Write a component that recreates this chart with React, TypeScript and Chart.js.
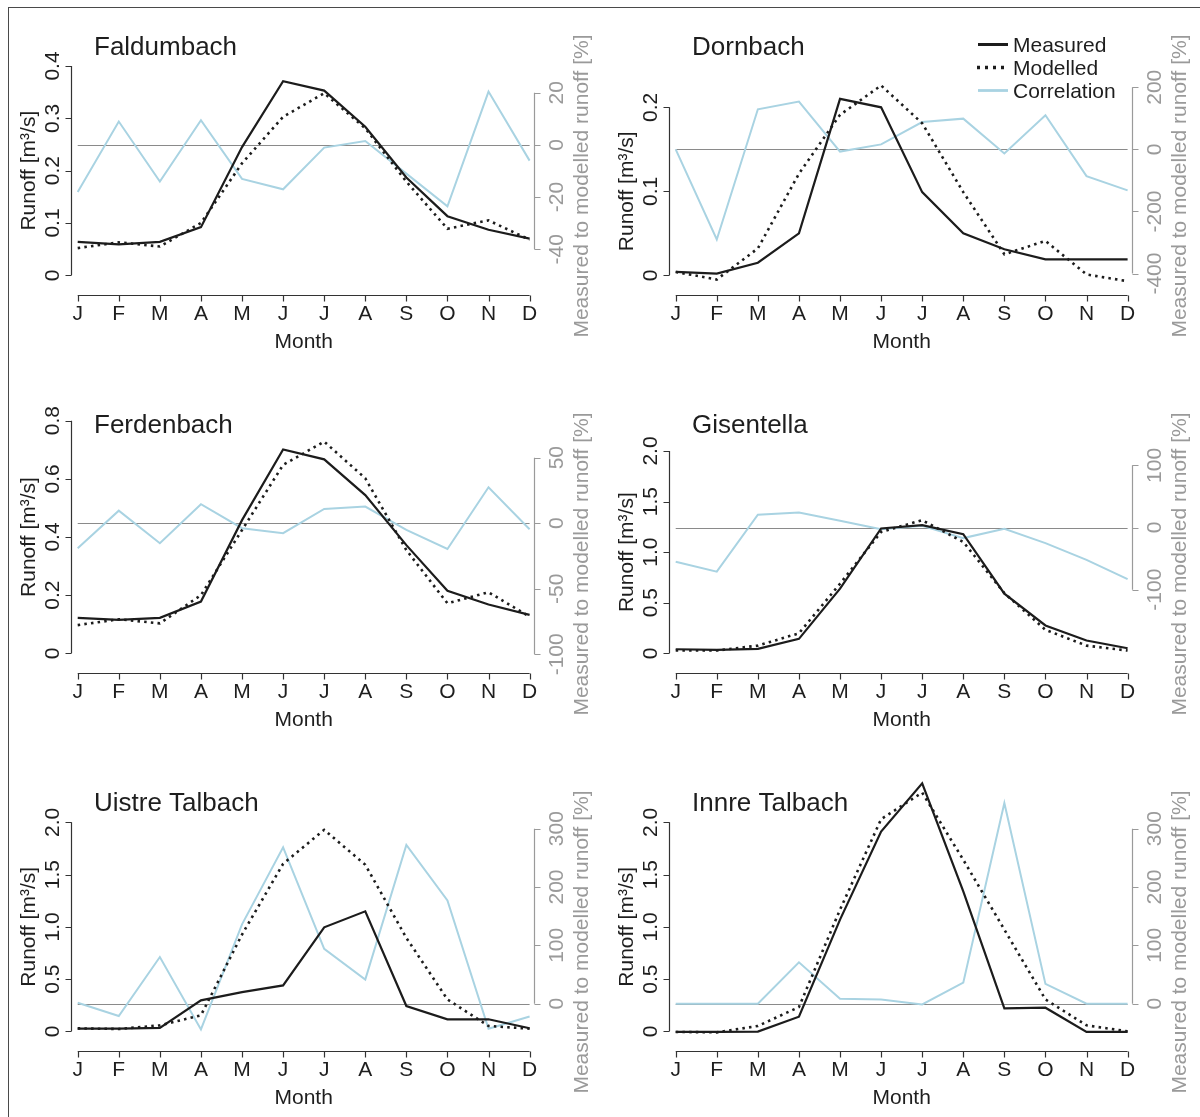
import React, { useEffect, useRef } from "react";
import { Chart, registerables } from "chart.js";

Chart.register(...registerables);

const FONT = '"Liberation Sans", Arial, Helvetica, sans-serif';

const months = ["J", "F", "M", "A", "M", "J", "J", "A", "S", "O", "N", "D"];
const seriesLabels = ["Measured", "Modelled", "Correlation"];

// Faldumbach
const faldumbachMeasured = [0.064, 0.059, 0.064, 0.092, 0.245, 0.371, 0.353, 0.284, 0.187, 0.113, 0.087, 0.07];
const faldumbachModelled = [0.052, 0.063, 0.055, 0.1, 0.214, 0.303, 0.348, 0.281, 0.179, 0.089, 0.105, 0.068];
const faldumbachCorrelation = [-18, 9, -14, 9.5, -13, -17, -1, 1.5, -11, -23.5, 20.5, -6];
const faldumbachLeftTicks = [0, 0.1, 0.2, 0.3, 0.4];
const faldumbachLeftLabels = ["0", "0.1", "0.2", "0.3", "0.4"];
const faldumbachRightTicks = [-40, -20, 0, 20];

// Dornbach
const dornbachMeasured = [0.004, 0.002, 0.015, 0.05, 0.21, 0.2, 0.099, 0.05, 0.031, 0.019, 0.019, 0.019];
const dornbachModelled = [0.004, -0.005, 0.032, 0.121, 0.191, 0.226, 0.181, 0.099, 0.025, 0.041, 0.001, -0.007];
const dornbachCorrelation = [0, -290, 129, 154, -7, 16, 88, 99, -13, 110, -86, -132];
const dornbachLeftTicks = [0, 0.1, 0.2];
const dornbachLeftLabels = ["0", "0.1", "0.2"];
const dornbachRightTicks = [-400, -200, 0, 200];

// Ferdenbach
const ferdenbachMeasured = [0.122, 0.115, 0.122, 0.178, 0.458, 0.701, 0.667, 0.544, 0.372, 0.215, 0.168, 0.132];
const ferdenbachModelled = [0.097, 0.117, 0.103, 0.2, 0.424, 0.648, 0.728, 0.602, 0.355, 0.172, 0.21, 0.126];
const ferdenbachCorrelation = [-19, 9.6, -15.3, 14.5, -3.8, -7.6, 10.9, 12.7, -5.1, -19.6, 27.4, -4.6];
const ferdenbachLeftTicks = [0, 0.2, 0.4, 0.6, 0.8];
const ferdenbachLeftLabels = ["0", "0.2", "0.4", "0.6", "0.8"];
const ferdenbachRightTicks = [-100, -50, 0, 50];

// Gisentella
const gisentellaMeasured = [0.04, 0.034, 0.044, 0.143, 0.639, 1.234, 1.267, 1.178, 0.589, 0.275, 0.126, 0.05];
const gisentellaModelled = [0.027, 0.027, 0.076, 0.198, 0.688, 1.2, 1.316, 1.101, 0.595, 0.232, 0.076, 0.027];
const gisentellaCorrelation = [-55, -71, 20.5, 24, 11, -2.7, 2.7, -17, -2, -25, -52, -83];
const gisentellaLeftTicks = [0, 0.5, 1.0, 1.5, 2.0];
const gisentellaLeftLabels = ["0", "0.5", "1.0", "1.5", "2.0"];
const gisentellaRightTicks = [-100, 0, 100];

// Uistre Talbach
const uistreMeasured = [0.025, 0.025, 0.032, 0.296, 0.375, 0.439, 0.995, 1.148, 0.242, 0.115, 0.115, 0.029];
const uistreModelled = [0.028, 0.022, 0.057, 0.153, 0.926, 1.603, 1.928, 1.594, 0.894, 0.305, 0.051, 0.025];
const uistreCorrelation = [1.7, -21, 80, -44, 136, 268, 94, 41.5, 272, 177, -43, -22];
const uistreLeftTicks = [0, 0.5, 1.0, 1.5, 2.0];
const uistreLeftLabels = ["0", "0.5", "1.0", "1.5", "2.0"];
const uistreRightTicks = [0, 100, 200, 300];

// Innre Talbach
const innreMeasured = [-0.006, -0.006, -0.003, 0.14, 1.069, 1.911, 2.373, 1.339, 0.219, 0.226, -0.006, -0.006];
const innreModelled = [-0.006, -0.01, 0.051, 0.232, 1.164, 2.03, 2.284, 1.641, 0.973, 0.305, 0.057, 0.0];
const innreCorrelation = [0, 0, 0, 71, 8.5, 7.4, -1.2, 36, 344, 34, 0, 0];
const innreLeftTicks = [0, 0.5, 1.0, 1.5, 2.0];
const innreLeftLabels = ["0", "0.5", "1.0", "1.5", "2.0"];
const innreRightTicks = [0, 100, 200, 300];

type Spec = {
  name: string;
  measured: number[];
  modelled: number[];
  correlation: number[];
  leftTicks: number[];
  leftLabels: string[];
  rightTicks: number[];
  rightMin: number;
  rightMax: number;
  top: number;
  legend: boolean;
  row: number;
  col: number;
};

const panels: Spec[] = [
  { name: "Faldumbach", measured: faldumbachMeasured, modelled: faldumbachModelled, correlation: faldumbachCorrelation, leftTicks: faldumbachLeftTicks, leftLabels: faldumbachLeftLabels, rightTicks: faldumbachRightTicks, rightMin: -50, rightMax: 30.3, top: 66, legend: false, row: 0, col: 0 },
  { name: "Dornbach", measured: dornbachMeasured, modelled: dornbachModelled, correlation: dornbachCorrelation, leftTicks: dornbachLeftTicks, leftLabels: dornbachLeftLabels, rightTicks: dornbachRightTicks, rightMin: -405.5, rightMax: 135.5, top: 107.3, legend: true, row: 0, col: 1 },
  { name: "Ferdenbach", measured: ferdenbachMeasured, modelled: ferdenbachModelled, correlation: ferdenbachCorrelation, leftTicks: ferdenbachLeftTicks, leftLabels: ferdenbachLeftLabels, rightTicks: ferdenbachRightTicks, rightMin: -99.2, rightMax: 78.2, top: 42.7, legend: false, row: 1, col: 0 },
  { name: "Gisentella", measured: gisentellaMeasured, modelled: gisentellaModelled, correlation: gisentellaCorrelation, leftTicks: gisentellaLeftTicks, leftLabels: gisentellaLeftLabels, rightTicks: gisentellaRightTicks, rightMin: -202.3, rightMax: 123.1, top: 73, legend: false, row: 1, col: 1 },
  { name: "Uistre Talbach", measured: uistreMeasured, modelled: uistreModelled, correlation: uistreCorrelation, leftTicks: uistreLeftTicks, leftLabels: uistreLeftLabels, rightTicks: uistreRightTicks, rightMin: -47.3, rightMax: 310.9, top: 66.3, legend: false, row: 2, col: 0 },
  { name: "Innre Talbach", measured: innreMeasured, modelled: innreModelled, correlation: innreCorrelation, leftTicks: innreLeftTicks, leftLabels: innreLeftLabels, rightTicks: innreRightTicks, rightMin: -47.3, rightMax: 310.9, top: 66.3, legend: false, row: 2, col: 1 },
];

const W = 600;
const H = 378;
const TEXT = "#1e1e1e";
const GREY = "#9a9a9a";

function rotText(ctx: CanvasRenderingContext2D, text: string, x: number, y: number) {
  ctx.save();
  ctx.translate(x, y);
  ctx.rotate(-Math.PI / 2);
  ctx.textAlign = "center";
  ctx.textBaseline = "alphabetic";
  ctx.fillText(text, 0, 0);
  ctx.restore();
}

function makeDecor(spec: Spec) {
  return {
    id: "decor",
    beforeDatasetsDraw(chart: any) {
      const { ctx, scales } = chart;
      const yz = Math.round(scales.y2.getPixelForValue(0)) + 0.5;
      ctx.save();
      ctx.strokeStyle = "#8a8a8a";
      ctx.lineWidth = 1.2;
      ctx.beginPath();
      ctx.moveTo(scales.x.getPixelForValue(0), yz);
      ctx.lineTo(scales.x.getPixelForValue(months.length - 1), yz);
      ctx.stroke();
      ctx.restore();
    },
    afterDraw(chart: any) {
      const { ctx, chartArea: ca, scales } = chart;
      const x = scales.x;
      const y = scales.y;
      const y2 = scales.y2;
      ctx.save();
      ctx.font = `21px ${FONT}`;

      // left axis
      const lx = Math.round(ca.left - 7) + 0.5;
      ctx.strokeStyle = "#333";
      ctx.lineWidth = 1.2;
      ctx.beginPath();
      ctx.moveTo(lx, y.getPixelForValue(spec.leftTicks[0]));
      ctx.lineTo(lx, y.getPixelForValue(spec.leftTicks[spec.leftTicks.length - 1]));
      spec.leftTicks.forEach((t) => {
        const py = Math.round(y.getPixelForValue(t)) + 0.5;
        ctx.moveTo(lx, py);
        ctx.lineTo(lx - 6, py);
      });
      ctx.stroke();
      ctx.fillStyle = TEXT;
      spec.leftTicks.forEach((t, i) => {
        rotText(ctx, spec.leftLabels[i], 59, y.getPixelForValue(t));
      });
      const yMid = (y.getPixelForValue(spec.leftTicks[0]) + y.getPixelForValue(spec.leftTicks[spec.leftTicks.length - 1])) / 2;
      rotText(ctx, "Runoff [m\u00b3/s]", 35, yMid);

      // x axis
      const ax = 295.5;
      ctx.beginPath();
      ctx.moveTo(x.getPixelForValue(0), ax);
      ctx.lineTo(x.getPixelForValue(months.length - 1), ax);
      months.forEach((_, i) => {
        const px = Math.round(x.getPixelForValue(i)) + 0.5;
        ctx.moveTo(px, ax);
        ctx.lineTo(px, ax + 6);
      });
      ctx.stroke();
      ctx.textAlign = "center";
      ctx.textBaseline = "alphabetic";
      months.forEach((m, i) => {
        ctx.fillText(m, x.getPixelForValue(i), 320);
      });
      ctx.fillText("Month", (ca.left + ca.right) / 2, 348);

      // right axis
      const rx = Math.round(ca.right + 4) + 0.5;
      ctx.strokeStyle = GREY;
      ctx.beginPath();
      ctx.moveTo(rx, y2.getPixelForValue(spec.rightTicks[0]));
      ctx.lineTo(rx, y2.getPixelForValue(spec.rightTicks[spec.rightTicks.length - 1]));
      spec.rightTicks.forEach((t) => {
        const py = Math.round(y2.getPixelForValue(t)) + 0.5;
        ctx.moveTo(rx, py);
        ctx.lineTo(rx + 6, py);
      });
      ctx.stroke();
      ctx.fillStyle = GREY;
      spec.rightTicks.forEach((t) => {
        rotText(ctx, String(t), 563, y2.getPixelForValue(t));
      });
      rotText(ctx, "Measured to modelled runoff [%]", 588, 186);

      // panel title
      ctx.fillStyle = TEXT;
      ctx.font = `26px ${FONT}`;
      ctx.textAlign = "left";
      ctx.fillText(spec.name, 94, 55);

      // legend
      if (spec.legend) {
        ctx.font = `21px ${FONT}`;
        chart.data.datasets.forEach((ds: any, i: number) => {
          const cy = 44.5 + 23 * i;
          ctx.save();
          ctx.strokeStyle = ds.borderColor;
          ctx.lineWidth = ds.borderWidth + 0.8;
          ctx.setLineDash(ds.borderDash ? [3, 5] : []);
          ctx.beginPath();
          ctx.moveTo(ds.borderDash ? 379 : 380, cy);
          ctx.lineTo(410, cy);
          ctx.stroke();
          ctx.restore();
          ctx.fillStyle = TEXT;
          ctx.textAlign = "left";
          ctx.fillText(ds.label, 415, 51.5 + 23 * i);
        });
      }
      ctx.restore();
    },
  };
}

function Panel({ spec }: { spec: Spec }) {
  const ref = useRef<HTMLCanvasElement>(null);
  useEffect(() => {
    const canvas = ref.current;
    if (!canvas) return;
    const chart = new Chart(canvas, {
      type: "line",
      data: {
        labels: months,
        datasets: [
          { label: seriesLabels[0], data: spec.measured, yAxisID: "y", borderColor: "#1c1c1c", borderWidth: 2.2, pointRadius: 0, tension: 0, fill: false, clip: false } as any,
          { label: seriesLabels[1], data: spec.modelled, yAxisID: "y", borderColor: "#1c1c1c", borderWidth: 2.6, borderDash: [2.5, 4.2], pointRadius: 0, tension: 0, fill: false, clip: false } as any,
          { label: seriesLabels[2], data: spec.correlation, yAxisID: "y2", borderColor: "#a9d3e2", borderWidth: 2, pointRadius: 0, tension: 0, fill: false, clip: false } as any,
        ],
      },
      options: {
        animation: false,
        responsive: false,
        maintainAspectRatio: false,
        devicePixelRatio: 1,
        events: [],
        layout: { padding: { left: 77.7, right: W - 529.6, top: spec.top, bottom: H - 275.3 } },
        scales: {
          x: { type: "category", display: false, offset: false },
          y: { type: "linear", display: false, min: spec.leftTicks[0], max: spec.leftTicks[spec.leftTicks.length - 1] },
          y2: { type: "linear", display: false, min: spec.rightMin, max: spec.rightMax },
        },
        plugins: { legend: { display: false }, tooltip: { enabled: false }, title: { display: false } },
      },
      plugins: [makeDecor(spec)],
    } as any);
    return () => chart.destroy();
  }, [spec]);
  return (
    <canvas
      ref={ref}
      width={W}
      height={H}
      style={{ position: "absolute", left: 598 * spec.col, top: 378 * spec.row, width: W, height: H, display: "block" }}
    />
  );
}

export default function App() {
  return (
    <div style={{ position: "absolute", left: 0, top: 0, width: 1200, height: 1117, overflow: "hidden", background: "#fff" }}>
      <div style={{ position: "absolute", left: 8, top: 7, right: 0, bottom: 0, borderTop: "1px solid #4a4a4a", borderLeft: "1px solid #4a4a4a" }} />
      {panels.map((p) => (
        <Panel key={p.name} spec={p} />
      ))}
    </div>
  );
}
